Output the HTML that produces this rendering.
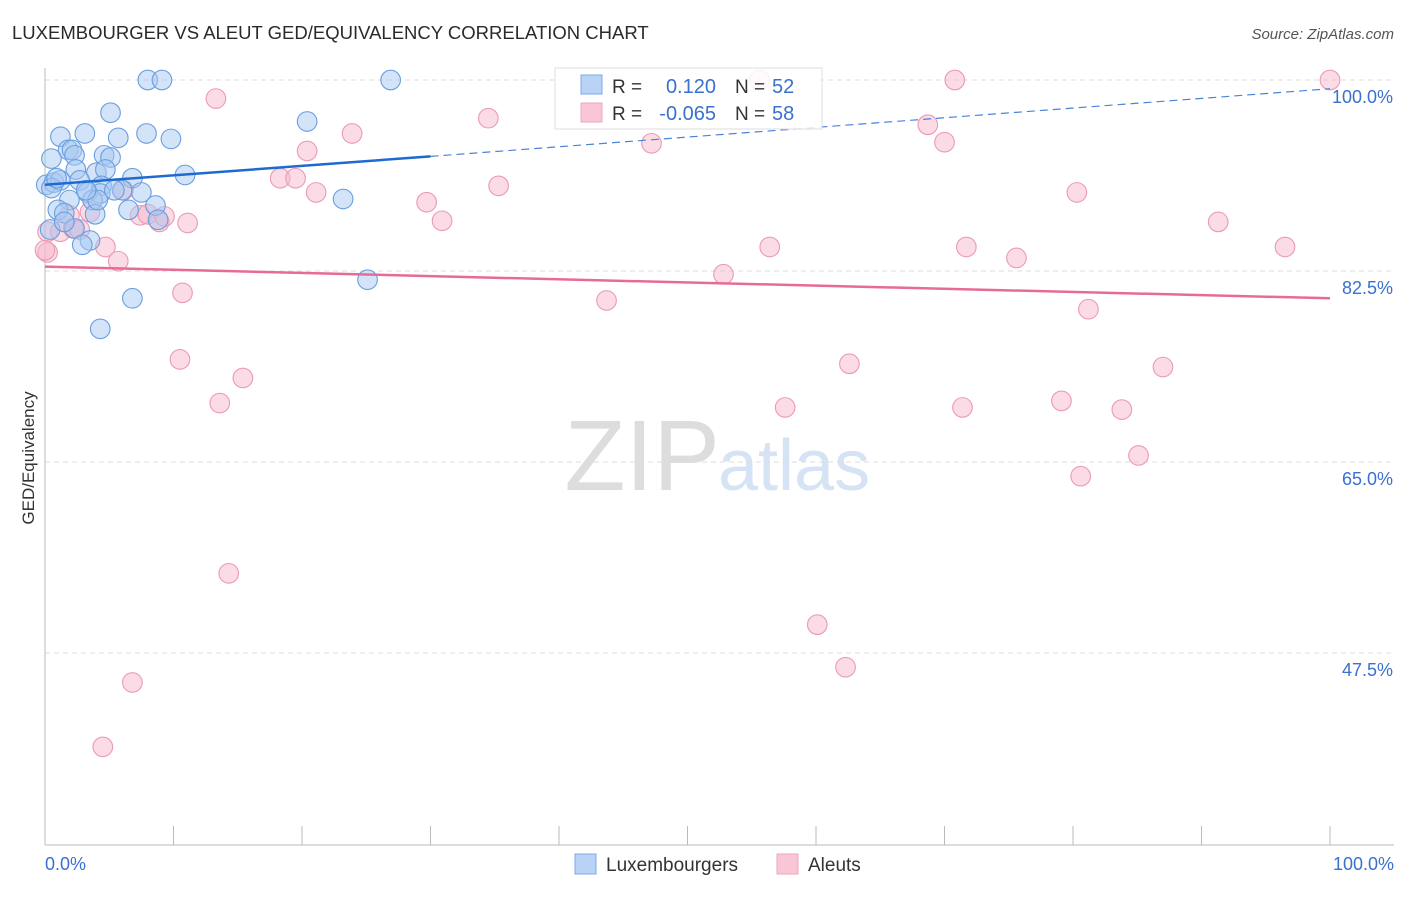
<!DOCTYPE html>
<html><head><meta charset="utf-8"><style>
body{margin:0;background:#fff;font-family:"Liberation Sans",sans-serif;}
svg text{font-family:"Liberation Sans",sans-serif;}
</style></head><body>
<svg id="c" width="1406" height="892" xmlns="http://www.w3.org/2000/svg">
<text x="12" y="39" font-size="18.5" fill="#2a2a2a">LUXEMBOURGER VS ALEUT GED/EQUIVALENCY CORRELATION CHART</text>
<text x="1394" y="39" font-size="15" fill="#555" text-anchor="end" font-style="italic">Source: ZipAtlas.com</text>
<text x="720" y="490" font-size="100" fill="#ddd" text-anchor="end" font-family="Liberation Serif">ZIP</text>
<text x="718" y="490" font-size="72" fill="#d5e3f5">atlas</text>
<text x="34" y="458" font-size="17" fill="#333" text-anchor="middle" transform="rotate(-90 34 458)">GED/Equivalency</text>
<g id="grid"></g><g id="axes"></g><g id="pts"></g><g id="trend"></g>
<g>
<rect x="555" y="68" width="267" height="61" fill="#fff" fill-opacity="0.85" stroke="#ddd"/>
<rect x="581" y="75" width="21" height="19" fill="#b8d3f5" stroke="#7eaae6"/>
<rect x="581" y="103" width="21" height="19" fill="#f9c6d5" stroke="#eea6bd"/>
<text x="612" y="93" font-size="19" fill="#333">R =</text><text x="716" y="93" font-size="20" fill="#3a70d0" text-anchor="end">0.120</text>
<text x="735" y="93" font-size="19" fill="#333">N =</text><text x="772" y="93" font-size="20" fill="#3a70d0">52</text>
<text x="612" y="120" font-size="19" fill="#333">R =</text><text x="716" y="120" font-size="20" fill="#3a70d0" text-anchor="end">-0.065</text>
<text x="735" y="120" font-size="19" fill="#333">N =</text><text x="772" y="120" font-size="20" fill="#3a70d0">58</text>
</g>
<g>
<rect x="575" y="854" width="21" height="20" fill="#b8d3f5" stroke="#7eaae6"/>
<text x="606" y="871" font-size="19" fill="#333">Luxembourgers</text>
<rect x="777" y="854" width="21" height="20" fill="#f9c6d5" stroke="#eea6bd"/>
<text x="808" y="871" font-size="19" fill="#333">Aleuts</text>
</g>
</svg>
<script>
const blueX=[8.0,9.1,26.9,5.1,20.4,1.2,3.1,5.7,7.9,9.8,1.8,2.1,2.3,4.6,5.1,0.5,2.4,4.0,4.7,10.9,6.8,0.1,0.7,1.2,2.7,4.4,3.3,6.0,7.5,4.3,1.9,3.7,23.2,1.0,1.5,3.9,6.5,8.6,8.8,2.3,3.5,2.9,6.8,25.1,4.3,0.4,0.5,1.5,4.1,5.4,0.9,3.2];
const blueY=[100,100,100,97.0,96.2,94.8,95.1,94.7,95.1,94.6,93.6,93.6,93.1,93.1,92.9,92.8,91.8,91.5,91.8,91.3,91.0,90.4,90.6,90.8,90.8,90.3,89.7,89.9,89.7,89.6,89.0,89.0,89.1,88.1,87.8,87.7,88.1,88.5,87.2,86.4,85.3,84.9,80.0,81.7,77.2,86.3,90.1,87.0,89.0,89.9,91.0,89.9];
const pinkX=[55.6,70.8,100,13.3,34.5,23.9,68.7,47.2,70.0,20.4,18.3,19.5,21.1,35.3,80.3,29.7,30.9,91.3,96.5,56.4,71.7,75.6,52.8,43.7,81.2,10.7,10.5,15.4,13.6,62.6,87.0,57.6,71.4,79.1,83.8,85.1,80.6,14.3,60.1,62.3,6.8,4.5,0.2,0.2,1.2,1.9,3.5,4.7,5.7,2.2,7.4,8.0,8.9,9.3,11.1,2.7,6.1,0];
const pinkY=[100,100,100,98.3,96.5,95.1,95.9,94.2,94.3,93.5,91.0,91.0,89.7,90.3,89.7,88.8,87.1,87.0,84.7,84.7,84.7,83.7,82.2,79.8,79.0,80.5,74.4,72.7,70.4,74.0,73.7,70.0,70.0,70.6,69.8,65.6,63.7,54.8,50.1,46.2,44.8,38.9,84.2,86.1,86.1,87.6,87.9,84.7,83.4,86.4,87.6,87.7,87.0,87.5,86.9,86.3,89.9,84.4];
const yTicks=[100,82.5,65,47.5];
const yTickLabels=["100.0%","82.5%","65.0%","47.5%"];
const blueTrend=[[0,90.4],[30,93.0],[100,99.2]];
const pinkTrend=[[0,82.9],[100,80.0]];
const NS="http://www.w3.org/2000/svg";
const X=v=>45+v*12.85, Y=v=>80+(100-v)*191/17.5;
function mk(t,a,p){const e=document.createElementNS(NS,t);for(const k in a)e.setAttribute(k,a[k]);document.getElementById(p).appendChild(e);return e;}
yTicks.forEach((t,i)=>{
 const l=mk('line',{x1:45,x2:1394,y1:Y(t),y2:Y(t),stroke:'#ddd','stroke-dasharray':'5,4'},'grid');
 
 
 const tx=mk('text',{x:1393,y:Y(t)+23,'font-size':18,fill:'#3a70d0','text-anchor':'end'},'grid');
 tx.textContent=yTickLabels[i];
 
 
});
let ax=mk('line',{x1:45,x2:45,y1:68,y2:845,stroke:'#bbb'},'axes');


ax=mk('line',{x1:45,x2:1394,y1:845,y2:845,stroke:'#bbb'},'axes');


for(let i=0;i<=10;i++){const tk=mk('line',{x1:X(i*10),x2:X(i*10),y1:826,y2:845,stroke:'#bbb'},'axes');
 
 }
let xl=mk('text',{x:45,y:870,'font-size':18,fill:'#3a70d0'},'axes');xl.textContent='0.0%';


xl=mk('text',{x:1394,y:870,'font-size':18,fill:'#3a70d0','text-anchor':'end'},'axes');xl.textContent='100.0%';


function pts(xs,ys,fill,stroke,name){xs.forEach((x,i)=>{
 const c=mk('circle',{cx:X(x),cy:Y(ys[i]),r:9.8,fill:fill,'fill-opacity':0.5,stroke:stroke,'stroke-width':1.1},'pts');
 
 });}
pts(pinkX,pinkY,'#f7b8cb','#eb9ab3','aleut-point');
pts(blueX,blueY,'#a8c8f2','#6a9ee0','luxembourger-point');
let tl=mk('line',{x1:X(blueTrend[0][0]),y1:Y(blueTrend[0][1]),x2:X(blueTrend[1][0]),y2:Y(blueTrend[1][1]),stroke:'#1f6ad0','stroke-width':2.5},'trend');


tl=mk('line',{x1:X(blueTrend[1][0]),y1:Y(blueTrend[1][1]),x2:X(blueTrend[2][0]),y2:Y(blueTrend[2][1]),stroke:'#4a84d8','stroke-width':1.2,'stroke-dasharray':'8,5'},'trend');


tl=mk('line',{x1:X(pinkTrend[0][0]),y1:Y(pinkTrend[0][1]),x2:X(pinkTrend[1][0]),y2:Y(pinkTrend[1][1]),stroke:'#e66c97','stroke-width':2.5},'trend');


</script>
</body></html>
